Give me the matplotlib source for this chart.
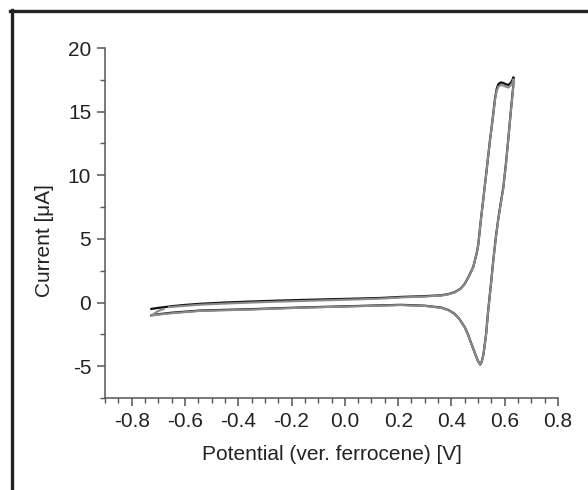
import numpy as np
import matplotlib
matplotlib.use("Agg")
import matplotlib.pyplot as plt
from matplotlib.lines import Line2D
from matplotlib.ticker import MultipleLocator

plt.rcParams["font.family"] = ["Liberation Sans", "DejaVu Sans"]

# cycle 1 (black): forward sweep then reverse sweep
pot_black = [-0.726, -0.70, -0.65, -0.60, -0.543, -0.45, -0.35, -0.25, -0.166, -0.05,
             0.05, 0.136, 0.211, 0.30, 0.362, 0.388, 0.412, 0.435, 0.450, 0.465,
             0.482, 0.495, 0.501, 0.510, 0.520, 0.532, 0.545, 0.554, 0.564, 0.570,
             0.576, 0.585, 0.595, 0.605, 0.614, 0.622, 0.628, 0.633,
             0.632, 0.625, 0.614, 0.605, 0.595, 0.585, 0.576, 0.566, 0.557, 0.548,
             0.538, 0.530, 0.520, 0.513, 0.508, 0.500, 0.494, 0.485, 0.475, 0.462,
             0.450, 0.430, 0.412, 0.390, 0.362, 0.30, 0.211, 0.05, -0.166, -0.35,
             -0.543, -0.65, -0.70, -0.726]
cur_black = [-0.50, -0.42, -0.29, -0.19, -0.10, 0.00, 0.08, 0.15, 0.20, 0.26,
             0.31, 0.36, 0.44, 0.50, 0.57, 0.66, 0.81, 1.10, 1.47, 2.05,
             2.80, 3.90, 4.60, 6.40, 8.20, 10.40, 12.80, 14.30, 16.10, 16.80,
             17.15, 17.30, 17.25, 17.15, 17.10, 17.25, 17.45, 17.70,
             17.00, 15.50, 13.00, 11.00, 9.10, 7.80, 6.60, 5.00, 3.30, 1.40,
             -0.63, -2.50, -4.10, -4.70, -4.87, -4.60, -4.30, -3.80, -3.25, -2.50,
             -1.94, -1.30, -0.89, -0.60, -0.40, -0.25, -0.18, -0.27, -0.39, -0.52,
             -0.63, -0.80, -0.92, -1.00]

# cycle 2 (grey): lies almost on top of cycle 1
pot_grey = [-0.66, -0.60, -0.543, -0.45, -0.35, -0.25, -0.166, -0.05,
            0.05, 0.136, 0.211, 0.30, 0.362, 0.388, 0.412, 0.435, 0.450, 0.465,
            0.482, 0.495, 0.501, 0.510, 0.520, 0.532, 0.545, 0.554, 0.564, 0.570,
            0.576, 0.585, 0.595, 0.605, 0.614, 0.622, 0.628, 0.633,
            0.632, 0.625, 0.614, 0.605, 0.595, 0.585, 0.576, 0.566, 0.557, 0.548,
            0.538, 0.530, 0.520, 0.513, 0.508, 0.500, 0.494, 0.485, 0.475, 0.462,
            0.450, 0.430, 0.412, 0.390, 0.362, 0.30, 0.211, 0.05, -0.166, -0.35,
            -0.543, -0.65, -0.70, -0.726, -0.715, -0.70, -0.68]
cur_grey = [-0.36, -0.26, -0.17, -0.08, 0.00, 0.07, 0.12, 0.19,
            0.25, 0.31, 0.40, 0.47, 0.55, 0.64, 0.79, 1.08, 1.45, 2.03,
            2.78, 3.88, 4.58, 6.38, 8.18, 10.38, 12.78, 14.25, 16.00, 16.65,
            16.95, 17.10, 17.05, 16.95, 16.90, 17.05, 17.25, 17.55,
            16.90, 15.45, 12.95, 10.95, 9.05, 7.75, 6.55, 4.95, 3.25, 1.35,
            -0.66, -2.52, -4.12, -4.72, -4.88, -4.62, -4.32, -3.82, -3.27, -2.52,
            -1.96, -1.32, -0.91, -0.62, -0.42, -0.27, -0.20, -0.29, -0.41, -0.55,
            -0.66, -0.84, -0.95, -1.02, -0.86, -0.66, -0.50]

fig = plt.figure(figsize=(5.88, 4.9), dpi=100)
ax = fig.add_axes([0.1786, 0.1878, 0.949 - 0.1786, 0.902 - 0.1878])

ax.plot(pot_black, cur_black, color="#111111", lw=1.6, solid_joinstyle="round")
ax.plot(pot_grey, cur_grey, color="#8a8a8a", lw=1.5, solid_joinstyle="round")

ax.set_xlim(-0.9, 0.8)
ax.set_ylim(-7.5, 20)
ax.xaxis.set_major_locator(MultipleLocator(0.2))
ax.xaxis.set_minor_locator(MultipleLocator(0.05))
ax.yaxis.set_major_locator(MultipleLocator(5))
ax.yaxis.set_minor_locator(MultipleLocator(2.5))
ax.set_xticks(np.arange(-0.8, 0.81, 0.2))
ax.set_xticklabels(["-0.8", "-0.6", "-0.4", "-0.2", "0.0", "0.2", "0.4", "0.6", "0.8"])
ax.set_yticks([-5, 0, 5, 10, 15, 20])
ax.set_yticklabels(["-5", "0", "5", "10", "15", "20"])

for side in ["top", "right"]:
    ax.spines[side].set_visible(False)
for side in ["left", "bottom"]:
    ax.spines[side].set_color("#555555")
    ax.spines[side].set_linewidth(1.1)

ax.tick_params(which="major", direction="out", length=6, width=1.1, color="#555555",
               labelsize=15, labelcolor="#222222", pad=4)
ax.tick_params(which="minor", direction="out", length=3.5, width=1.0, color="#555555")

ax.set_xlabel("Potential (ver. ferrocene) [V]", fontsize=15, color="#222222", labelpad=10)
ax.set_ylabel("Current [\u03bcA]", fontsize=15, color="#222222")
ax.yaxis.set_label_coords(-0.113, 0.45)

# partial dark frame around the figure (left and top edges only)
fig.add_artist(Line2D([11.5 / 588, 11.5 / 588], [0, 1 - 10 / 490],
                      transform=fig.transFigure, color="#222222", lw=2.4))
fig.add_artist(Line2D([10 / 588, 1], [1 - 11 / 490, 1 - 11 / 490],
                      transform=fig.transFigure, color="#222222", lw=2.4))

fig.savefig("out.png", dpi=100)
plt.close(fig)
